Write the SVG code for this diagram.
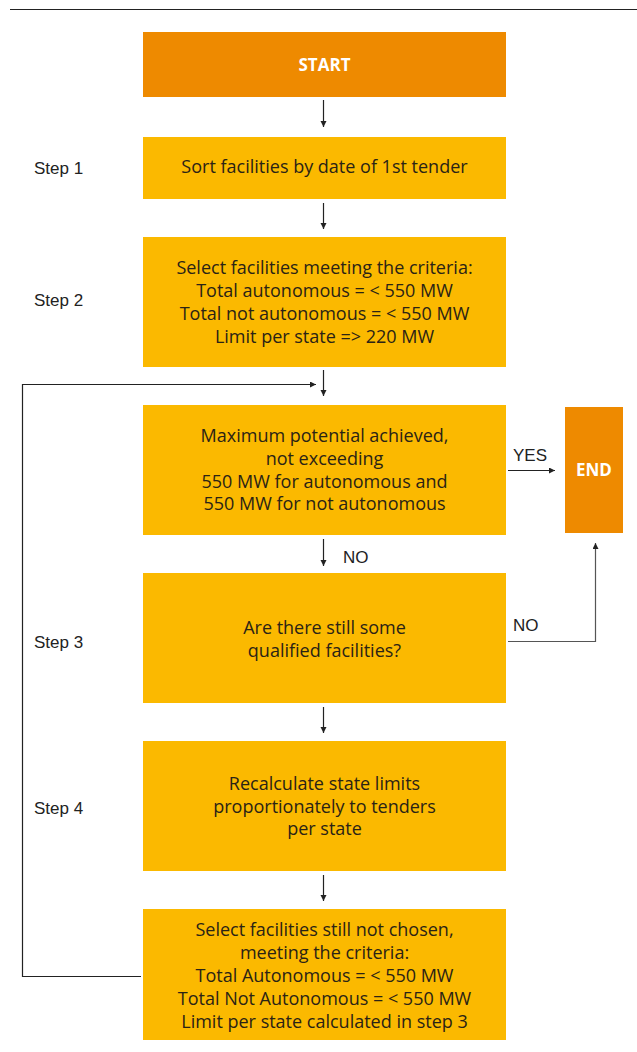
<svg xmlns="http://www.w3.org/2000/svg" width="637" height="1052" viewBox="0 0 637 1052">
<defs>
<marker id="ah" markerWidth="8" markerHeight="8" refX="6" refY="3" orient="auto" markerUnits="userSpaceOnUse">
<path d="M0,0 L6,3 L0,6 z" fill="#222"/>
</marker>
<style>
.term{fill:#EE8A00}
.box{fill:#FBB900}
.t{font-family:"Open Sans","Noto Sans",sans-serif;font-size:18px;fill:#2a2316;text-anchor:middle}
.tw{font-family:"Open Sans","Noto Sans",sans-serif;font-size:17px;font-weight:bold;fill:#fff;text-anchor:middle}
.lab{font-family:"Liberation Sans",Arial,sans-serif;font-size:17px;fill:#222}
.c{stroke:#222;stroke-width:1.2;fill:none}
.cg{stroke:#555;stroke-width:1.2;fill:none}
</style>
</defs>
<line x1="10" y1="9.5" x2="637" y2="9.5" stroke="#222" stroke-width="1.2"/>
<g id="start"><rect class="term" x="143" y="32" width="363" height="65"/><text class="tw" x="324.5" y="71">START</text></g>
<g id="step1"><rect class="box" x="143" y="137" width="363" height="62"/><text class="t" x="324.5" y="173">Sort facilities by date of 1st tender</text></g>
<g id="step2"><rect class="box" x="143" y="237" width="363" height="130"/>
<text class="t" x="324.5" y="274">Select facilities meeting the criteria:</text>
<text class="t" x="324.5" y="297">Total autonomous = &lt; 550 MW</text>
<text class="t" x="324.5" y="320">Total not autonomous = &lt; 550 MW</text>
<text class="t" x="324.5" y="343">Limit per state =&gt; 220 MW</text></g>
<g id="max"><rect class="box" x="143" y="405" width="363" height="130"/>
<text class="t" x="324.5" y="442">Maximum potential achieved,</text>
<text class="t" x="324.5" y="465">not exceeding</text>
<text class="t" x="324.5" y="488">550 MW for autonomous and</text>
<text class="t" x="324.5" y="510">550 MW for not autonomous</text></g>
<g id="end"><rect class="term" x="565" y="407" width="58" height="126"/><text class="tw" x="594" y="476">END</text></g>
<g id="qualified"><rect class="box" x="143" y="573" width="363" height="130"/>
<text class="t" x="324.5" y="634">Are there still some</text>
<text class="t" x="324.5" y="657">qualified facilities?</text></g>
<g id="recalc"><rect class="box" x="143" y="741" width="363" height="130"/>
<text class="t" x="324.5" y="790">Recalculate state limits</text>
<text class="t" x="324.5" y="813">proportionately to tenders</text>
<text class="t" x="324.5" y="835">per state</text></g>
<g id="select2"><rect class="box" x="143" y="909" width="363" height="131"/>
<text class="t" x="324.5" y="936">Select facilities still not chosen,</text>
<text class="t" x="324.5" y="959">meeting the criteria:</text>
<text class="t" x="324.5" y="982">Total Autonomous = &lt; 550 MW</text>
<text class="t" x="324.5" y="1005">Total Not Autonomous = &lt; 550 MW</text>
<text class="t" x="324.5" y="1028">Limit per state calculated in step 3</text></g>
<g id="steps">
<text class="lab" x="34" y="174">Step 1</text>
<text class="lab" x="34" y="306">Step 2</text>
<text class="lab" x="34" y="648">Step 3</text>
<text class="lab" x="34" y="814">Step 4</text>
</g>
<g id="connectors">
<line class="c" x1="323.5" y1="100" x2="323.5" y2="127" marker-end="url(#ah)"/>
<line class="c" x1="323.5" y1="203" x2="323.5" y2="229" marker-end="url(#ah)"/>
<line class="c" x1="323.5" y1="370" x2="323.5" y2="396" marker-end="url(#ah)"/>
<polyline class="c" points="141,976.5 22.5,976.5 22.5,384.5 316,384.5" marker-end="url(#ah)"/>
<line class="c" x1="508" y1="470.5" x2="555" y2="470.5" marker-end="url(#ah)"/>
<text class="lab" x="513" y="461">YES</text>
<line class="c" x1="323.5" y1="539" x2="323.5" y2="566" marker-end="url(#ah)"/>
<text class="lab" x="343" y="563">NO</text>
<polyline class="cg" points="508,641.5 595.5,641.5 595.5,543" marker-end="url(#ah)"/>
<text class="lab" x="513" y="631">NO</text>
<line class="c" x1="323.5" y1="707" x2="323.5" y2="733" marker-end="url(#ah)"/>
<line class="c" x1="323.5" y1="875" x2="323.5" y2="901" marker-end="url(#ah)"/>
</g>
</svg>
